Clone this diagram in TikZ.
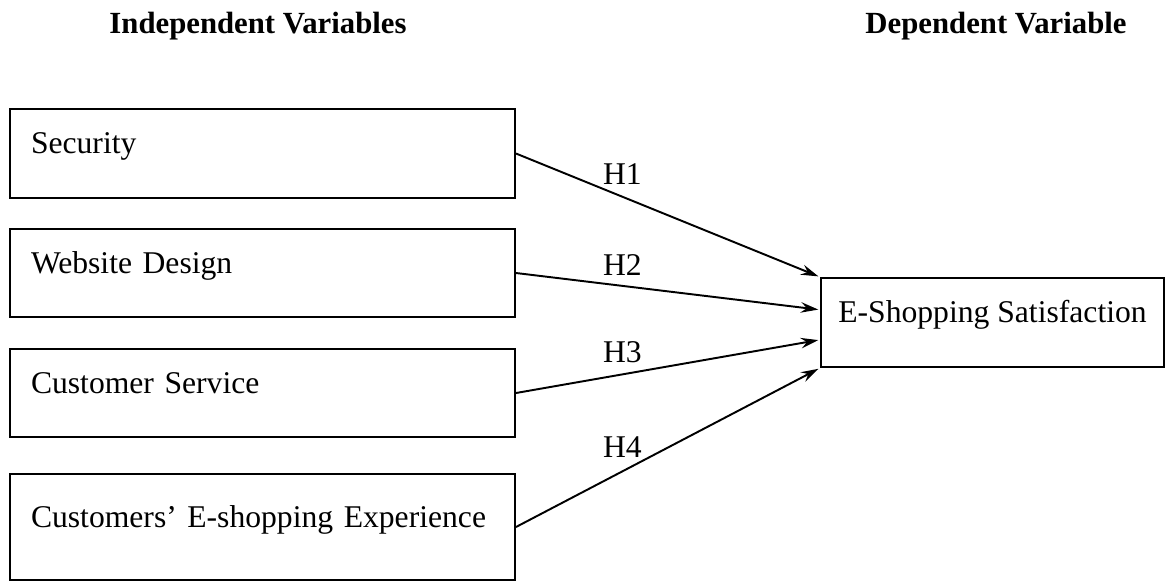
\documentclass[tikz,border=0pt]{standalone}
\usepackage{fontspec}
\setmainfont{Liberation Serif}
\usepackage{tikz}
\usetikzlibrary{arrows.meta,calc}

\begin{document}
\begin{tikzpicture}[->,>={Stealth[length=10pt,width=6pt,inset=3.5pt]},shorten >=1pt,auto,line width=1.1pt,
                    var node/.style={rectangle,draw,align=left,inner xsep=0.42cm,text width=9.26cm,
                                     minimum width=10.1cm,text height=0.4cm,text depth=0.4cm,font=\fontsize{18}{21}\selectfont},
                    dep node/.style={rectangle,draw,align=center,text height=0.4cm,text depth=0.4cm,font=\fontsize{18}{21}\selectfont},
                    head node/.style={anchor=base,font=\fontsize{17.5}{21}\selectfont\bfseries},
                    hyp node/.style={font=\fontsize{18}{21}\selectfont}]
  \useasboundingbox (0,0) rectangle (23.32,-11.62);

  \node[head node] (I) at (5.16,-0.66) {Independent Variables};
  \node[head node] (D) at (19.92,-0.66) {Dependent Variable};

  \node[var node, minimum height=1.78cm] (1) at (5.25,-3.07) {Security};
  \node[var node, minimum height=1.76cm] (2) at (5.25,-5.46) {Website Design};
  \node[var node, minimum height=1.76cm] (3) at (5.25,-7.86) {Customer Service};
  \node[var node, minimum height=2.12cm] (4) at (5.25,-10.54) {Customers' E-shopping Experience};

  \node[dep node, minimum width=6.86cm, minimum height=1.78cm] (5) at (19.85,-6.45) {E-Shopping Satisfaction};

  \path[every node/.style={hyp node}]
    (1.east) edge node [pos=0.35,above=0.11cm] {H1} (5.north west)
    (2.east) edge node [pos=0.35,above=0.07cm] {H2} ($(5.north west)!0.36!(5.south west)$)
    (3.east) edge node [pos=0.35,above=0.09cm] {H3} ($(5.north west)!0.69!(5.south west)$)
    (4.east) edge node [pos=0.35,above=0.14cm] {H4} (5.south west);
\end{tikzpicture}
\end{document}
